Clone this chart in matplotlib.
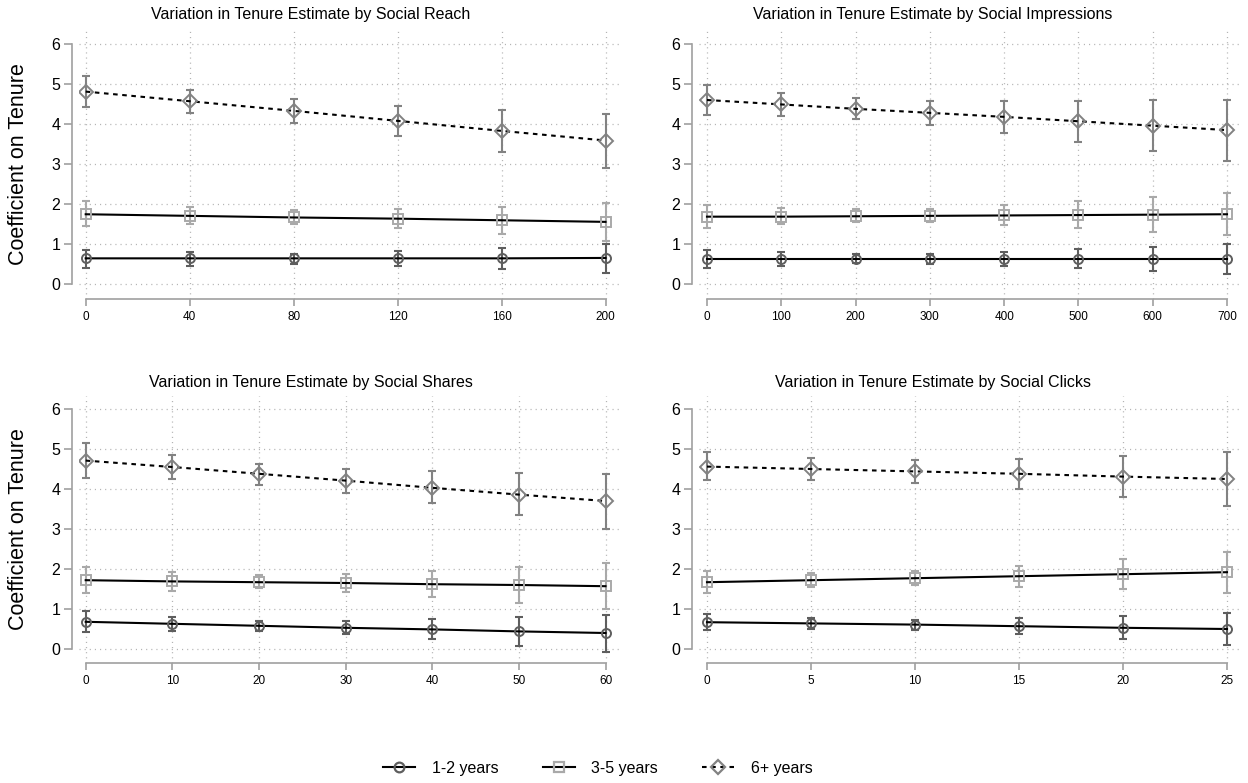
import matplotlib
matplotlib.use("Agg")
import matplotlib.pyplot as plt
from matplotlib.lines import Line2D

plt.rcParams['font.family'] = ['Liberation Sans', 'DejaVu Sans']

# ---- data ----
titles = ["Variation in Tenure Estimate by Social Reach",
          "Variation in Tenure Estimate by Social Impressions",
          "Variation in Tenure Estimate by Social Shares",
          "Variation in Tenure Estimate by Social Clicks"]
series_labels = ["1-2 years", "3-5 years", "6+ years"]

reach_x = [0, 40, 80, 120, 160, 200]
reach_y1 = [0.64, 0.64, 0.64, 0.64, 0.64, 0.65]
reach_lo1 = [0.40, 0.46, 0.50, 0.46, 0.37, 0.27]
reach_hi1 = [0.86, 0.80, 0.76, 0.83, 0.91, 1.00]
reach_y2 = [1.74, 1.70, 1.66, 1.63, 1.59, 1.55]
reach_lo2 = [1.45, 1.50, 1.49, 1.39, 1.25, 1.08]
reach_hi2 = [2.07, 1.92, 1.85, 1.87, 1.93, 2.01]
reach_y3 = [4.80, 4.56, 4.32, 4.07, 3.82, 3.58]
reach_lo3 = [4.42, 4.26, 4.02, 3.69, 3.30, 2.90]
reach_hi3 = [5.19, 4.85, 4.61, 4.44, 4.34, 4.25]

impr_x = [0, 100, 200, 300, 400, 500, 600, 700]
impr_y1 = [0.63, 0.63, 0.63, 0.63, 0.63, 0.63, 0.63, 0.63]
impr_lo1 = [0.41, 0.46, 0.52, 0.51, 0.46, 0.39, 0.32, 0.25]
impr_hi1 = [0.85, 0.79, 0.75, 0.75, 0.80, 0.87, 0.93, 1.01]
impr_y2 = [1.68, 1.68, 1.69, 1.70, 1.71, 1.72, 1.73, 1.74]
impr_lo2 = [1.39, 1.49, 1.54, 1.54, 1.46, 1.39, 1.30, 1.21]
impr_hi2 = [1.98, 1.90, 1.87, 1.88, 1.98, 2.07, 2.18, 2.28]
impr_y3 = [4.59, 4.48, 4.37, 4.27, 4.17, 4.06, 3.95, 3.84]
impr_lo3 = [4.22, 4.19, 4.12, 3.96, 3.77, 3.55, 3.32, 3.07]
impr_hi3 = [4.96, 4.77, 4.64, 4.57, 4.56, 4.56, 4.59, 4.60]

shares_x = [0, 10, 20, 30, 40, 50, 60]
shares_y1 = [0.68, 0.63, 0.58, 0.53, 0.49, 0.44, 0.40]
shares_lo1 = [0.42, 0.45, 0.45, 0.37, 0.24, 0.08, -0.07]
shares_hi1 = [0.95, 0.80, 0.71, 0.70, 0.75, 0.79, 0.86]
shares_y2 = [1.72, 1.69, 1.67, 1.65, 1.62, 1.60, 1.57]
shares_lo2 = [1.39, 1.46, 1.52, 1.43, 1.30, 1.16, 0.99]
shares_hi2 = [2.05, 1.92, 1.84, 1.87, 1.94, 2.04, 2.15]
shares_y3 = [4.71, 4.55, 4.38, 4.21, 4.03, 3.86, 3.70]
shares_lo3 = [4.28, 4.24, 4.11, 3.91, 3.64, 3.34, 3.01]
shares_hi3 = [5.15, 4.86, 4.63, 4.49, 4.44, 4.39, 4.38]

clicks_x = [0, 5, 10, 15, 20, 25]
clicks_y1 = [0.67, 0.64, 0.61, 0.57, 0.53, 0.50]
clicks_lo1 = [0.47, 0.51, 0.48, 0.37, 0.24, 0.11]
clicks_hi1 = [0.87, 0.77, 0.73, 0.77, 0.82, 0.90]
clicks_y2 = [1.67, 1.72, 1.77, 1.82, 1.87, 1.92]
clicks_lo2 = [1.41, 1.55, 1.60, 1.55, 1.49, 1.41]
clicks_hi2 = [1.95, 1.91, 1.95, 2.08, 2.25, 2.43]
clicks_y3 = [4.56, 4.50, 4.44, 4.38, 4.31, 4.25]
clicks_lo3 = [4.22, 4.23, 4.16, 3.99, 3.80, 3.57]
clicks_hi3 = [4.93, 4.77, 4.73, 4.76, 4.83, 4.93]

panels = [
    (reach_x, [(reach_y1, reach_lo1, reach_hi1), (reach_y2, reach_lo2, reach_hi2), (reach_y3, reach_lo3, reach_hi3)]),
    (impr_x, [(impr_y1, impr_lo1, impr_hi1), (impr_y2, impr_lo2, impr_hi2), (impr_y3, impr_lo3, impr_hi3)]),
    (shares_x, [(shares_y1, shares_lo1, shares_hi1), (shares_y2, shares_lo2, shares_hi2), (shares_y3, shares_lo3, shares_hi3)]),
    (clicks_x, [(clicks_y1, clicks_lo1, clicks_hi1), (clicks_y2, clicks_lo2, clicks_hi2), (clicks_y3, clicks_lo3, clicks_hi3)]),
]

# ---- styles ----
W, H = 1248, 783
markers = ['o', 's', 'D']
msizes = [6.5, 6.5, 7]
mcolors = ['#5e5e5e', '#a9a9a9', '#828282']
lstyles = ['-', '-', (0, (2.2, 2.2))]
axis_grey = '#a0a0a0'

# pixel boxes: (box x0, x1, data0 px, datamax px) and (box y0, y1, y0 px, y6 px)
cols = [(79, 620, 85.7, 605.5), (699, 1241, 707, 1227)]
rows = [(31, 299, 284, 43.5), (396, 663, 649, 409)]
title_pos = [(311, 15), (933, 15), (311, 382), (933, 382)]

fig = plt.figure(figsize=(W / 100, H / 100), dpi=100)

for i, (xs, series) in enumerate(panels):
    c, r = cols[i % 2], rows[i // 2]
    x0, x1, dx0, dx1 = c
    y0, y1, py0, py6 = r
    ax = fig.add_axes([x0 / W, 1 - y1 / H, (x1 - x0) / W, (y1 - y0) / H])
    xmax = xs[-1]
    kx = (dx1 - dx0) / xmax
    ax.set_xlim(-(dx0 - x0) / kx, xmax + (x1 - dx1) / kx)
    ky = (py0 - py6) / 6
    ax.set_ylim(-(y1 - py0) / ky, 6 + (py6 - y0) / ky)

    for j, (yv, lo, hi) in enumerate(series):
        err = [[v - l for v, l in zip(yv, lo)], [h - v for v, h in zip(yv, hi)]]
        ax.errorbar(xs, yv, yerr=err, fmt='none', ecolor=mcolors[j],
                    elinewidth=1.5, capsize=3, capthick=1.5, zorder=3)
        ax.plot(xs, yv, color='black', lw=1.5, ls=lstyles[j], zorder=4)
        ax.plot(xs, yv, ls='none', marker=markers[j], ms=msizes[j],
                mfc='none', mec=mcolors[j], mew=1.4, zorder=5)

    ax.set_xticks(xs)
    ax.set_yticks(range(7))
    ax.grid(True, color='#b4b4b4', lw=0.9, ls=(0, (0.9, 3.2)))
    ax.set_axisbelow(True)
    for s in ['top', 'right']:
        ax.spines[s].set_visible(False)
    ax.spines['left'].set_position(('outward', 5))
    ax.spines['left'].set_bounds(0, 6)
    ax.spines['bottom'].set_bounds(0, xmax)
    for s in ['left', 'bottom']:
        ax.spines[s].set_color(axis_grey)
        ax.spines[s].set_linewidth(1.2)
    ax.tick_params(axis='y', direction='out', length=5.5, width=1.2, color=axis_grey,
                   labelsize=11.5, pad=3)
    ax.tick_params(axis='x', direction='out', length=5, width=1.2, color=axis_grey,
                   labelsize=8.5, pad=4)
    tx, ty = title_pos[i]
    fig.text(tx / W, 1 - ty / H, titles[i], ha='center', va='center', fontsize=11.5)
    if i % 2 == 0:
        fig.text(19 / W, 1 - ((py0 + py6) / 2) / H, "Coefficient on Tenure",
                 rotation=90, ha='center', va='center', fontsize=15.5)

handles = [Line2D([], [], color='black', lw=1.5, ls=lstyles[j], marker=markers[j],
                  ms=msizes[j] + 0.5, mfc='none', mec=mcolors[j], mew=1.6)
           for j in range(3)]
fig.legend(handles, series_labels, loc='center', bbox_to_anchor=(598 / W, 1 - 768 / H),
           ncol=3, frameon=False, fontsize=11.5, handlelength=2.0, handletextpad=1.05,
           columnspacing=2.75)

fig.savefig("out.png", dpi=100)
